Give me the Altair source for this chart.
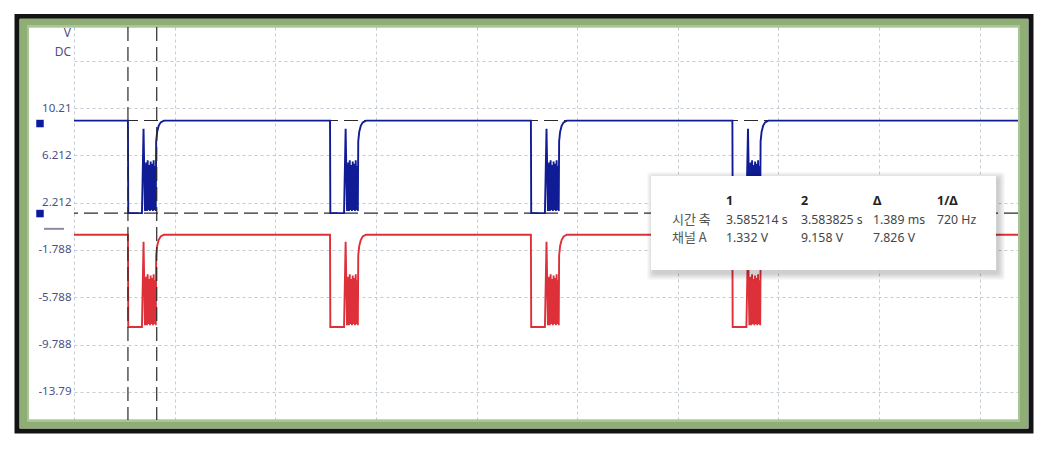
import altair as alt
import pandas as pd

# ---------------- data (time in ms, voltage in V) ----------------
t_end = 46.9
pulse_starts = [2.68, 12.72, 22.70, 32.71]
pulse_dt = [0.000, 0.015, 0.696, 0.775, 0.845, 0.905, 0.942, 0.979, 1.016, 1.054,
            1.091, 1.128, 1.165, 1.203, 1.240, 1.277, 1.315, 1.352, 1.382, 1.402,
            1.451, 1.526, 1.625, 1.789]
blue_pulse = [9.15, 1.33, 1.33, 8.45, 1.50, 5.60, 1.50, 5.80, 1.60, 5.40,
              1.50, 5.70, 1.60, 5.50, 1.50, 5.80, 1.60, 5.30, 1.50, 7.40,
              8.20, 8.70, 9.00, 9.15]
red_pulse = [-0.50, -8.30, -8.30, -1.10, -8.15, -4.05, -8.15, -3.85, -8.05, -4.25,
             -8.15, -3.95, -8.05, -4.15, -8.15, -3.85, -8.05, -4.35, -8.15, -2.25,
             -1.45, -0.95, -0.65, -0.50]
blue_high = 9.15
red_high = -0.50

tick_values = [-13.79, -9.788, -5.788, -1.788, 2.212, 6.212, 10.21, 14.21]
tick_labels = ["-13.79", "-9.788", "-5.788", "-1.788", "2.212", "6.212", "10.21", ""]
x_grid = [0, 5, 10, 15, 20, 25, 30, 35, 40, 45]

cursor_t = [2.68, 4.11]
cursor_v = [1.332, 9.158]
marker_v = [8.90, 1.29]
zero_marker_v = [0.0]

unit_labels = ["V", "DC"]
box_header = ["1", "2", "Δ", "1/Δ"]
box_rows = ["시간 축", "채널 A"]
box_time = ["3.585214 s", "3.583825 s", "1.389 ms", "720 Hz"]
box_chan = ["1.332 V", "9.158 V", "7.826 V"]

# ---------------- build trace table ----------------
rows = []
idx = 0
for name, high, shape in [("A", blue_high, blue_pulse), ("B", red_high, red_pulse)]:
    rows.append({"t": 0.0, "v": high, "s": name, "i": idx}); idx += 1
    for st in pulse_starts:
        for dt, v in zip(pulse_dt, shape):
            rows.append({"t": round(st + dt, 4), "v": v, "s": name, "i": idx}); idx += 1
    rows.append({"t": t_end, "v": high, "s": name, "i": idx}); idx += 1
trace = pd.DataFrame(rows)

W, H = 944, 393
xscale = alt.Scale(domain=[0, t_end], nice=False, zero=False)
yscale = alt.Scale(domain=[-16.16, 17.06], nice=False, zero=False)

vals_js = "[" + ",".join(repr(v) for v in tick_values) + "]"
labs_js = "[" + ",".join("'%s'" % l for l in tick_labels) + "]"
xaxis = alt.Axis(values=x_grid, grid=True, labels=False, ticks=False, domain=False,
                 title=None, gridDash=[3, 3], gridColor="#c5ccd6", gridWidth=1)
yaxis = alt.Axis(values=tick_values, grid=True, ticks=False, domain=False, title=None,
                 labelExpr=f"{labs_js}[indexof({vals_js}, datum.value)]",
                 labelPadding=3, labelFont="Noto Sans", labelFontSize=11.5,
                 labelColor="#4d4f82", gridDash=[3, 3], gridColor="#c5ccd6", gridWidth=1)


def X(f):
    return alt.X(f, type="quantitative", scale=xscale, axis=xaxis)


def Y(f):
    return alt.Y(f, type="quantitative", scale=yscale, axis=yaxis)


one = pd.DataFrame({"k": [0]})
layers = []

# frame decoration
layers.append(alt.Chart(one).mark_rect(fillOpacity=0, stroke="#141414", strokeWidth=5).encode(
    x=alt.value(-57), x2=alt.value(957), y=alt.value(-10.5), y2=alt.value(404)))
layers.append(alt.Chart(one).mark_rect(fillOpacity=0, stroke="#8fae76", strokeWidth=9).encode(
    x=alt.value(-49.5), x2=alt.value(949.5), y=alt.value(-4), y2=alt.value(397)))
layers.append(alt.Chart(one).mark_rect(fillOpacity=0, stroke="#a9c496", strokeWidth=2).encode(
    x=alt.value(-46), x2=alt.value(945), y=alt.value(-1), y2=alt.value(394)))

# horizontal cursors (under traces)
layers.append(alt.Chart(pd.DataFrame({"cv": cursor_v})).mark_rule(
    color="#2a2a2a", strokeDash=[14, 6], strokeWidth=1.2).encode(y=Y("cv")))

# traces
layers.append(alt.Chart(trace).mark_line(strokeWidth=1.9).encode(
    x=X("t"), y=Y("v"),
    color=alt.Color("s:N", scale=alt.Scale(domain=["A", "B"], range=["#101c96", "#de3038"]), legend=None),
    order=alt.Order("i:Q")))

# vertical cursors
layers.append(alt.Chart(pd.DataFrame({"ct": cursor_t})).mark_rule(
    color="#2a2a2a", strokeDash=[14, 6], strokeWidth=1.2).encode(x=X("ct")))

# left markers
layers.append(alt.Chart(pd.DataFrame({"mv": marker_v})).mark_square(
    size=56, color="#0c1a9c", opacity=1).encode(x=alt.value(-34), y=Y("mv")))
layers.append(alt.Chart(pd.DataFrame({"zv": zero_marker_v})).mark_rule(
    color="#8a8aa8", strokeWidth=2).encode(x=alt.value(-30), x2=alt.value(-10), y=Y("zv")))

# unit labels
for lab, yy in zip(unit_labels, [6, 25]):
    layers.append(alt.Chart(one).mark_text(
        text=lab, align="right", baseline="middle", font="Noto Sans", fontSize=12,
        color="#4d4f82").encode(x=alt.value(-3), y=alt.value(yy)))

# info box with shadow
bx0, bx1, by0, by1 = 577, 922, 149, 243
for k in range(1, 8):
    layers.append(alt.Chart(one).mark_rect(color="#000000", opacity=0.028, cornerRadius=3).encode(
        x=alt.value(bx0 - k + 3), x2=alt.value(bx1 + k + 2),
        y=alt.value(by0 - k + 3), y2=alt.value(by1 + k + 3)))
layers.append(alt.Chart(one).mark_rect(color="#ffffff").encode(
    x=alt.value(bx0), x2=alt.value(bx1), y=alt.value(by0), y2=alt.value(by1)))

cols = [652, 727, 799, 863]
for txt, cx in zip(box_header, cols):
    layers.append(alt.Chart(one).mark_text(
        text=txt, align="left", baseline="middle", font="Noto Sans", fontSize=12.5,
        fontWeight="bold", color="#222222").encode(x=alt.value(cx), y=alt.value(174)))
for txt, yy in zip(box_rows, [193, 211]):
    layers.append(alt.Chart(one).mark_text(
        text=txt, align="left", baseline="middle", font="Noto Sans CJK KR", fontSize=13,
        color="#555555").encode(x=alt.value(598), y=alt.value(yy)))
for txt, cx in zip(box_time, cols):
    layers.append(alt.Chart(one).mark_text(
        text=txt, align="left", baseline="middle", font="Noto Sans", fontSize=12.3,
        color="#444444").encode(x=alt.value(cx), y=alt.value(193)))
for txt, cx in zip(box_chan, cols):
    layers.append(alt.Chart(one).mark_text(
        text=txt, align="left", baseline="middle", font="Noto Sans", fontSize=12.3,
        color="#444444").encode(x=alt.value(cx), y=alt.value(211)))

chart = alt.layer(*layers).properties(
    width=W, height=H,
    padding={"left": 66, "top": 19, "right": 20, "bottom": 18},
    autosize=alt.AutoSizeParams(type="none"),
    background="white",
).configure_view(stroke=None)

chart.save("out.html", embed_options={"renderer": "svg", "actions": False})
